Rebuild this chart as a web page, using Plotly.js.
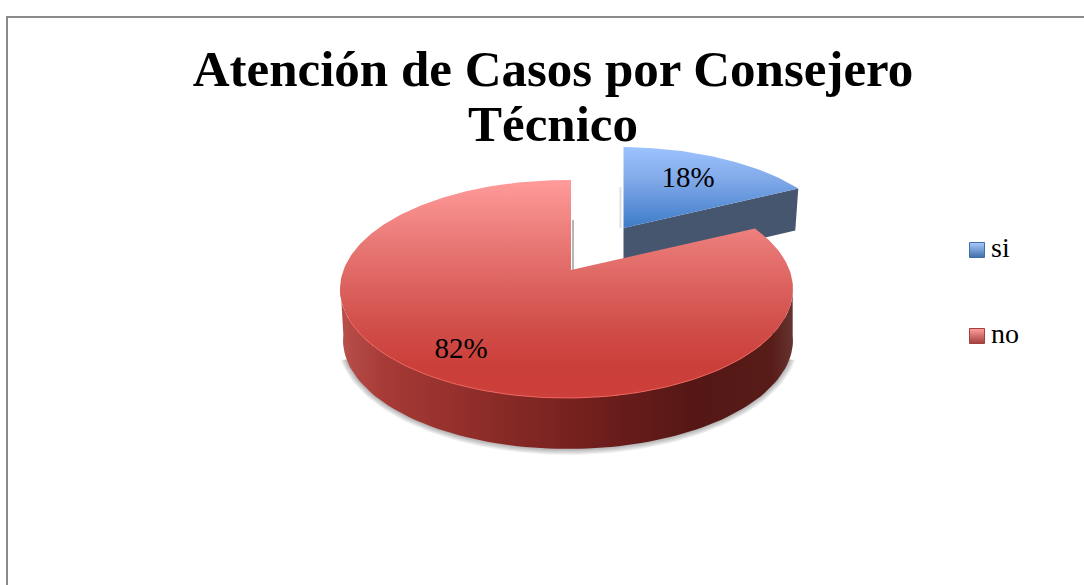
<!DOCTYPE html>
<html><head><meta charset="utf-8">
<script src="https://cdn.plot.ly/plotly-3.0.1.min.js"></script>
<style>html,body{margin:0;padding:0;background:#fff}#c{width:1084px;height:585px}</style>
</head><body><div id="c"></div>
<script>
const categories = ['si', 'no'];
const values = [18, 82];
const titleText = 'Atención de Casos por Consejero<br>Técnico';

// projection of the tilted pie on the page
const W = 1084, H = 585, K = 0.48;
const red = {ax: 571, ay: 270, cx: 566.5, cy: 289, rx: 226.5, ry: 109};
const blue = {ax: 623.5, ay: 228, cx: 619, cy: 247, rx: 221, ry: 100};
const redLow = {cx: 568, cy: 340, rx: 225, ry: 109};
const serif = '"Liberation Serif", serif';

function rim(e, deg) {
  const p = deg * Math.PI / 180, dx = Math.sin(p), dy = -Math.cos(p) * K;
  const ox = (e.ax - e.cx) / e.rx, oy = (e.ay - e.cy) / e.ry, ux = dx / e.rx, uy = dy / e.ry;
  const A = ux * ux + uy * uy, B = 2 * (ox * ux + oy * uy), C = ox * ox + oy * oy - 1;
  const t = (-B + Math.sqrt(B * B - 4 * A * C)) / (2 * A);
  return [e.ax + t * dx, e.ay + t * dy];
}
function slice(e, a0, a1) {
  const xs = [e.ax], ys = [e.ay];
  for (let a = a0; a <= a1 + 1e-6; a += 1) { const q = rim(e, a); xs.push(q[0]); ys.push(q[1]); }
  const q = rim(e, a1); xs.push(q[0], e.ax); ys.push(q[1], e.ay);
  return {xs, ys};
}
function arc(e, t0, t1, grow) {
  const xs = [], ys = [], g = grow || 0, step = t1 > t0 ? 2 : -2;
  for (let t = t0; step > 0 ? t <= t1 : t >= t1; t += step) {
    xs.push(e.cx + (e.rx + g) * Math.cos(t * Math.PI / 180));
    ys.push(e.cy + (e.ry + g) * Math.sin(t * Math.PI / 180));
  }
  return {xs, ys};
}
// the y axis runs downward, so vertical gradients are listed bottom to top
const flip = s => s.map(([p, c]) => [1 - p, c]).reverse();
const total = values[0] + values[1];
const cut = 360 * values[0] / total;

const traces = [];
// soft shadow beneath the wall
[6, 5, 4, 3, 2, 1].forEach(g => {
  const s = arc(redLow, 10, 170, g);
  traces.push({x: s.xs, y: s.ys, mode: 'lines', fill: 'toself', line: {width: 0}, fillcolor: 'rgba(0,0,0,0.05)', hoverinfo: 'skip'});
});
// inner cut shading
const rb0 = rim(blue, 0);
traces.push({x: [rb0[0] - 3, rb0[0] - 3], y: [rb0[1] + 40, blue.ay], mode: 'lines', line: {color: 'rgba(110,110,110,0.22)', width: 2}, hoverinfo: 'skip'});
traces.push({x: [red.ax + 2, red.ax + 2], y: [red.ay - 50, red.ay], mode: 'lines', line: {color: 'rgba(110,110,110,0.5)', width: 2}, hoverinfo: 'skip'});
// blue wall
const be = rim(blue, cut);
traces.push({x: [blue.ax, be[0], be[0] - 3, blue.ax], y: [blue.ay, be[1], be[1] + 42, blue.ay + 42], mode: 'lines', fill: 'toself', line: {width: 0}, fillcolor: '#46566f', hoverinfo: 'skip'});
// blue top
const bt = slice(blue, 0, cut);
traces.push({x: bt.xs, y: bt.ys, mode: 'lines', fill: 'toself', line: {width: 0}, hoverinfo: 'skip',
  fillgradient: {type: 'vertical', colorscale: flip([[0, '#9cc3ff'], [0.35, '#86adeb'], [1, '#3d7bc9']])}});
// red wall
const up = arc(red, -3, 183), lo = arc(redLow, 183, -3);
traces.push({x: up.xs.concat(lo.xs), y: up.ys.concat(lo.ys), mode: 'lines', fill: 'toself', line: {width: 0}, hoverinfo: 'skip',
  fillgradient: {type: 'horizontal', colorscale: [[0, '#b9504b'], [0.1, '#a63a36'], [0.35, '#8a2a27'], [0.6, '#6b1d1b'], [0.78, '#541715'], [0.95, '#571b18'], [1, '#663430']]}});
// red top
const rt = slice(red, cut, 360);
traces.push({x: rt.xs, y: rt.ys, mode: 'lines', fill: 'toself', line: {width: 0}, hoverinfo: 'skip',
  fillgradient: {type: 'vertical', colorscale: flip([[0, '#ff9b9a'], [0.3, '#e87774'], [0.65, '#d2504c'], [0.85, '#cb3f3a'], [1, '#cc3f3a']])}});
// rim highlight
const hl = arc(red, 25, 165);
traces.push({x: hl.xs, y: hl.ys, mode: 'lines', line: {color: '#f0635c', width: 1}, hoverinfo: 'skip'});
// value labels
traces.push({x: [688, 461], y: [180, 351], mode: 'text', text: values.map(v => v + '%'),
  textposition: 'middle center', textfont: {family: serif, size: 29, color: '#000'}, hoverinfo: 'skip'});
// legend
traces.push({x: [977, 977], y: [250, 336], mode: 'markers', hoverinfo: 'skip',
  marker: {symbol: 'square', size: 15, color: ['#a8ccff', '#ff9f9f'], line: {width: 1, color: ['#3f6ea8', '#a33f3c']},
    gradient: {type: 'vertical', color: ['#3f6ea8', '#a33f3c']}}});
traces.push({x: [991, 991], y: [250, 336], mode: 'text', text: categories, textposition: 'middle right',
  textfont: {family: serif, size: 28, color: '#000'}, hoverinfo: 'skip'});

const layout = {
  width: W, height: H, showlegend: false,
  margin: {l: 0, r: 0, t: 0, b: 0},
  paper_bgcolor: '#fff', plot_bgcolor: '#fff',
  title: {text: titleText, x: 553 / W, xanchor: 'center', y: 1 - 86 / H, yanchor: 'bottom',
    font: {family: serif, size: 51, color: '#000', weight: 700}},
  xaxis: {range: [0, W], visible: false, fixedrange: true},
  yaxis: {range: [H, 0], visible: false, fixedrange: true},
  shapes: [{type: 'path', xref: 'paper', yref: 'paper',
    path: `M ${7 / W} 0 L ${7 / W} ${1 - 17 / H} L 1 ${1 - 17 / H}`,
    line: {color: '#8a8a8a', width: 2}}]
};
Plotly.newPlot('c', traces, layout, {displayModeBar: false, staticPlot: true}).then(gd => {
  // the reference sets the two title lines closer than Plotly's fixed 1.3 line height
  const lines = gd.querySelectorAll('.gtitle .line');
  if (lines.length === 2) lines[1].setAttribute('y', parseFloat(lines[1].getAttribute('y')) - 11.3);
});
</script></body></html>
